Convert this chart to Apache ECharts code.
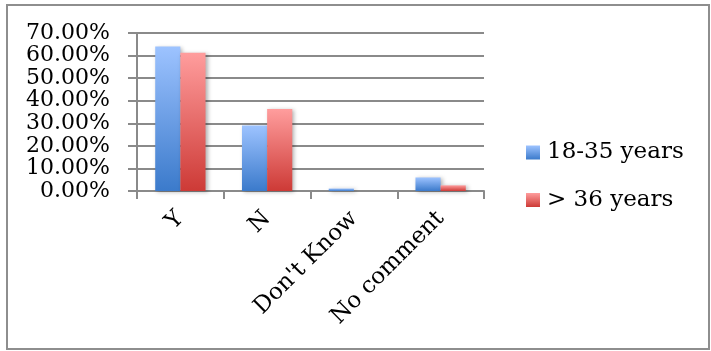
<!DOCTYPE html>
<html>
<head>
<meta charset="utf-8">
<script src="https://cdn.jsdelivr.net/npm/echarts@6/dist/echarts.min.js"></script>
<style>
html,body{margin:0;padding:0;background:#fff;}
#chart{width:711px;height:351px;}
</style>
</head>
<body>
<div id="chart"></div>
<script>
const categories = ["Y", "N", "Don't Know", "No comment"];
const seriesNames = ["18-35 years", "> 36 years"];
const young = [0.64, 0.29, 0.011, 0.06];
const older = [0.613, 0.363, 0, 0.025];

const font = "DejaVu Serif";
function grad(top, bottom) {
  return new echarts.graphic.LinearGradient(0, 0, 0, 1, [
    { offset: 0, color: top },
    { offset: 1, color: bottom }
  ]);
}
const blueGrad = grad('#9DC3FF', '#3B7ACB');
const redGrad = grad('#FF9D9D', '#CD3A36');

const chart = echarts.init(document.getElementById('chart'), null, { renderer: 'canvas' });
chart.setOption({
  animation: false,
  backgroundColor: '#fff',
  graphic: [{
    type: 'rect',
    shape: { x: 7, y: 5, width: 702, height: 344 },
    style: { fill: 'none', stroke: '#8e8e8e', lineWidth: 2 },
    z: 100
  }],
  grid: { left: 137, right: 227, top: 33, bottom: 160, containLabel: false },
  legend: {
    orient: 'vertical',
    left: 526,
    top: 141,
    padding: 0,
    itemWidth: 14,
    itemHeight: 14,
    itemGap: 24.5,
    icon: 'rect',
    textStyle: { fontFamily: font, fontSize: 23, color: '#000', lineHeight: 23, padding: [0, 0, 0, 2] },
    data: [
      { name: seriesNames[0], itemStyle: { color: blueGrad } },
      { name: seriesNames[1], itemStyle: { color: redGrad } }
    ]
  },
  xAxis: {
    type: 'category',
    data: categories,
    axisLine: { show: true, lineStyle: { color: '#8a8a8a', width: 2 } },
    axisTick: { show: true, length: 8, lineStyle: { color: '#8a8a8a', width: 2 } },
    axisLabel: { rotate: 45, margin: 24, fontFamily: font, fontSize: 23, color: '#000', interval: 0, hideOverlap: false }
  },
  yAxis: {
    type: 'value',
    min: 0,
    max: 0.7,
    interval: 0.1,
    axisLine: { show: true, lineStyle: { color: '#8a8a8a', width: 2 } },
    axisTick: { show: true, length: 9, lineStyle: { color: '#8a8a8a', width: 2 } },
    splitLine: { show: true, lineStyle: { color: '#8a8a8a', width: 2 } },
    axisLabel: {
      margin: 27,
      showMinLabel: true,
      showMaxLabel: true,
      hideOverlap: false,
      fontFamily: font, fontSize: 22, color: '#000',
      formatter: v => (v * 100).toFixed(2) + '%'
    }
  },
  series: [
    {
      name: seriesNames[0], type: 'bar', data: young,
      barGap: '0%', barCategoryGap: '42%',
      itemStyle: { color: blueGrad, shadowColor: 'rgba(0,0,0,0.3)', shadowBlur: 4, shadowOffsetX: 2, shadowOffsetY: 1 }
    },
    {
      name: seriesNames[1], type: 'bar', data: older,
      barGap: '0%', barCategoryGap: '42%',
      itemStyle: { color: redGrad, shadowColor: 'rgba(0,0,0,0.3)', shadowBlur: 4, shadowOffsetX: 2, shadowOffsetY: 1 }
    }
  ]
});
</script>
</body>
</html>
